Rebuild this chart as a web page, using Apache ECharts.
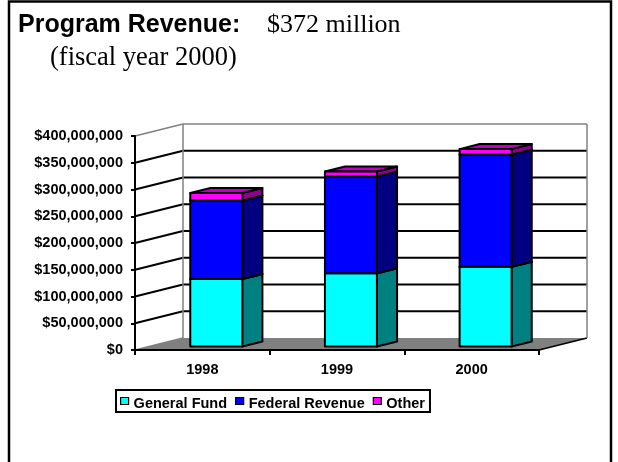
<!DOCTYPE html>
<html>
<head>
<meta charset="utf-8">
<script src="https://cdn.jsdelivr.net/npm/echarts@6/dist/echarts.min.js"></script>
<style>
html,body{margin:0;padding:0;background:#fff;}
#chart{width:618px;height:462px;}
</style>
</head>
<body>
<div id="chart"></div>
<script>
// ---- data ----
const categories = ['1998', '1999', '2000'];
const seriesNames = ['General Fund', 'Federal Revenue', 'Other'];
const generalFund = [126000000, 137000000, 149000000];
const federalRevenue = [147000000, 181000000, 210000000];
const otherRevenue = [14000000, 9000000, 10000000];
const yTicks = [0, 50000000, 100000000, 150000000, 200000000, 250000000, 300000000, 350000000, 400000000];
const titleMain = 'Program Revenue:';
const titleAmount = '$372 million';
const titleSub = '(fiscal year 2000)';

// ---- styling constants ----
const SANS = '"Liberation Sans", Arial, sans-serif';
const SERIF = '"Liberation Serif", "Times New Roman", serif';
const DX = 48, DY = -12;          // depth of the 3D box
const F0 = 0.29, F1 = 0.71;       // bar depth range (fraction)
const BAR_RATIO = 0.386;          // bar width / category band
const faceColors = [
  {front: '#00FFFF', side: '#008080', top: '#00C0C0'},
  {front: '#0000FF', side: '#000080', top: '#0000C0'},
  {front: '#FF00FF', side: '#900090', top: '#C000C0'}
];

function fmtDollar(v) {
  return '$' + String(v).replace(/\B(?=(\d{3})+(?!\d))/g, ',');
}

// stacked ranges
const valueSets = [generalFund, federalRevenue, otherRevenue];
const stackData = valueSets.map(() => []);
categories.forEach((c, i) => {
  let base = 0;
  valueSets.forEach((arr, k) => {
    stackData[k].push([i, base, base + arr[i]]);
    base += arr[i];
  });
});

const yMax = yTicks[yTicks.length - 1];

function renderWalls(params, api) {
  const v = api.value(0);
  const cs = params.coordSys;
  const x0 = cs.x, x1 = cs.x + cs.width;
  const y = api.coord([0, v])[1];
  const children = [];
  if (v === 0) {
    children.push({
      type: 'polygon',
      shape: {points: [[x0, y], [x1, y], [x1 + DX, y + DY], [x0 + DX, y + DY]]},
      style: {fill: '#808080', stroke: null}
    });
    children.push({
      type: 'line',
      shape: {x1: x0, y1: y, x2: x0 + DX, y2: y + DY},
      style: {stroke: '#808080', lineWidth: 1.5}
    });
    children.push({
      type: 'line',
      shape: {x1: x1, y1: y, x2: x1 + DX, y2: y + DY},
      style: {stroke: '#000', lineWidth: 1.5}
    });
    return {type: 'group', children};
  }
  const top = v === yMax;
  const col = top ? '#808080' : '#000';
  const lw = top ? 1.5 : 2;
  children.push({
    type: 'line',
    shape: {x1: x0, y1: y, x2: x0 + DX, y2: y + DY},
    style: {stroke: col, lineWidth: lw}
  });
  children.push({
    type: 'line',
    shape: {x1: x0 + DX, y1: y + DY, x2: x1 + DX, y2: y + DY},
    style: {stroke: col, lineWidth: lw}
  });
  if (top) {
    const yb = api.coord([0, 0])[1] + DY;
    children.push({
      type: 'line',
      shape: {x1: x0 + DX, y1: y + DY, x2: x0 + DX, y2: yb},
      style: {stroke: '#808080', lineWidth: 1.5}
    });
    children.push({
      type: 'line',
      shape: {x1: x1 + DX, y1: y + DY, x2: x1 + DX, y2: yb},
      style: {stroke: '#808080', lineWidth: 1.5}
    });
  }
  return {type: 'group', children};
}

function makeBarRenderer(k) {
  const c = faceColors[k];
  return function (params, api) {
    const idx = api.value(0);
    const base = api.value(1);
    const topV = api.value(2);
    const cx = api.coord([idx, 0])[0];
    const band = api.size([1, 0])[0];
    const bw = band * BAR_RATIO;
    const ox = DX * F0, oy = DY * F0;
    const ddx = DX * (F1 - F0), ddy = DY * (F1 - F0);
    const fx0 = cx - bw / 2 + ox, fx1 = fx0 + bw;
    const yb = api.coord([idx, base])[1] + oy;
    const yt = api.coord([idx, topV])[1] + oy;
    const st = {stroke: '#000', lineWidth: 2, lineJoin: 'round'};
    return {
      type: 'group',
      children: [
        {type: 'polygon', shape: {points: [[fx1, yb], [fx1 + ddx, yb + ddy], [fx1 + ddx, yt + ddy], [fx1, yt]]},
          style: Object.assign({fill: c.side}, st)},
        {type: 'polygon', shape: {points: [[fx0, yt], [fx1, yt], [fx1 + ddx, yt + ddy], [fx0 + ddx, yt + ddy]]},
          style: Object.assign({fill: c.top}, st)},
        {type: 'rect', shape: {x: fx0, y: yt, width: bw, height: yb - yt},
          style: Object.assign({fill: c.front}, st)}
      ]
    };
  };
}

const chart = echarts.init(document.getElementById('chart'), null, {renderer: 'canvas'});

const option = {
  backgroundColor: '#fff',
  animation: false,
  title: [
    {text: titleMain, left: 18, top: 12, padding: 0,
      textStyle: {fontFamily: SANS, fontWeight: 'bold', fontSize: 25, color: '#000', lineHeight: 26}},
    {text: titleAmount, left: 267, top: 12, padding: 0,
      textStyle: {fontFamily: SERIF, fontWeight: 'normal', fontSize: 26, color: '#000', lineHeight: 26}},
    {text: titleSub, left: 50, top: 45, padding: 0,
      textStyle: {fontFamily: SERIF, fontWeight: 'normal', fontSize: 26.5, color: '#000', lineHeight: 26}}
  ],
  graphic: [
    {type: 'rect', shape: {x: 9, y: 1.5, width: 602, height: 480},
      style: {fill: null, stroke: '#000', lineWidth: 2.5}, silent: true, z: 100}
  ],
  legend: {
    data: seriesNames,
    left: 116, top: 390,
    orient: 'horizontal',
    icon: 'rect',
    itemWidth: 8, itemHeight: 7, itemGap: 8,
    padding: [1, 5, 1, 4],
    borderColor: '#000', borderWidth: 2,
    itemStyle: {borderColor: '#000', borderWidth: 1.2},
    formatter: '{t|{name}}',
    textStyle: {
      fontFamily: SANS, fontWeight: 'bold', fontSize: 14.5, color: '#000',
      rich: {t: {fontFamily: SANS, fontWeight: 'bold', fontSize: 14.5, color: '#000',
        lineHeight: 17, padding: [5, 0, 0, 0]}}
    },
    selectedMode: false
  },
  grid: {left: 135, top: 136, width: 404, height: 214},
  xAxis: {
    type: 'category', data: categories, boundaryGap: true, z: 10,
    axisLine: {lineStyle: {color: '#000', width: 2}},
    axisTick: {show: true, length: 5, lineStyle: {color: '#000', width: 2}},
    axisLabel: {fontFamily: SANS, fontWeight: 'bold', fontSize: 14.5, color: '#000', margin: 12},
    splitLine: {show: false}
  },
  yAxis: {
    type: 'value', min: 0, max: yMax, interval: 50000000, z: 10,
    axisLine: {show: true, lineStyle: {color: '#000', width: 2}},
    axisTick: {show: true, length: 4, lineStyle: {color: '#000', width: 2}},
    axisLabel: {fontFamily: SANS, fontWeight: 'bold', fontSize: 14.5, color: '#000', margin: 12,
      formatter: fmtDollar},
    splitLine: {show: false}
  },
  series: [
    {type: 'custom', name: 'walls', renderItem: renderWalls, data: yTicks.map(v => [v]),
      encode: {y: 0}, silent: true, z: 1}
  ].concat(seriesNames.map((n, k) => ({
    type: 'custom', name: n, renderItem: makeBarRenderer(k), data: stackData[k],
    encode: {x: 0, y: [1, 2]}, itemStyle: {color: faceColors[k].front}, z: 3
  })))
};

chart.setOption(option);
</script>
</body>
</html>
